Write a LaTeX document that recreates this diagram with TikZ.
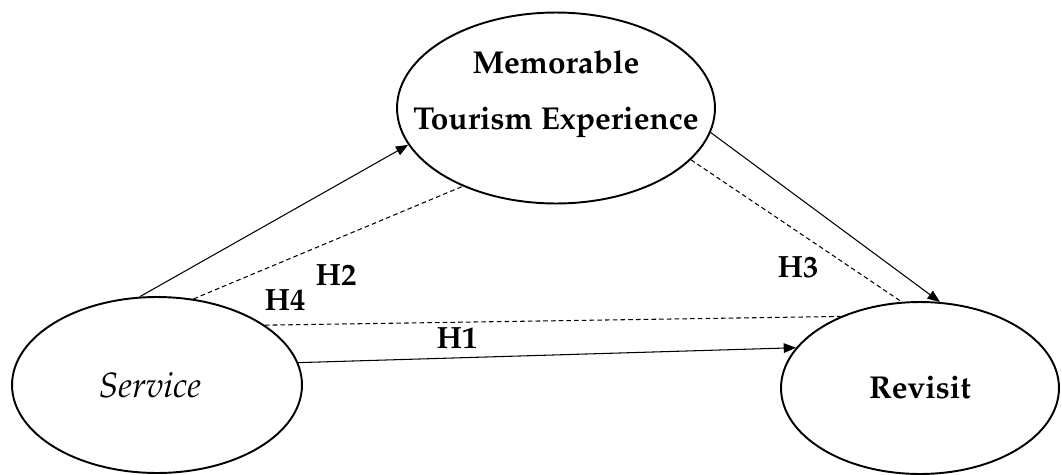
\documentclass[tikz,border=0pt]{standalone}
\usepackage[T1]{fontenc}
\usepackage{mathpazo}
\usetikzlibrary{
    shapes.geometric,
    arrows.meta,
    positioning,
}

\begin{document}
\begin{tikzpicture}[
        x=0.02cm, y=-0.02cm,
        construct/.style={ellipse, draw=black, line width=1.1pt, inner xsep=-1cm, inner ysep=0pt, minimum width=#1, font=\fontsize{18}{32}\selectfont, align=center},
        direct/.style={-{Triangle[length=7pt, width=5.5pt]}, line width=0.6pt},
        indirect/.style={line width=0.6pt, dash pattern=on 2.6pt off 1.8pt},
        hyp/.style={font=\fontsize{17.5}{20}\selectfont\bfseries},
    ]
        \useasboundingbox (0,0) rectangle (1062,474);
        \node[construct=6.36cm, minimum height=3.82cm] (mte) at (556,108) {\textbf{Memorable}\\\textbf{Tourism Experience}\\[-12pt]\mbox{}};
        \node[construct=5.8cm, minimum height=3.52cm] (srv) at (157,385) {\fontsize{20}{24}\selectfont\textit{Service}\hspace{8pt}};
        \node[construct=5.56cm, minimum height=3.44cm] (rev) at (920,388) {\textbf{Revisit}};
        \draw[direct] (srv.101) -- (mte.194);
        \draw[indirect] (srv.67) -- (mte.220);
        \draw[direct] (mte.351) -- (rev.77);
        \draw[indirect] (mte.339) -- (rev.102);
        \draw[indirect] (srv.29) -- (rev.138);
        \draw[direct] (srv.9) -- (rev.162);
        \node[hyp] (h2) at (336,275) {H2};
        \node[hyp] (h4) at (285,300) {H4};
        \node[hyp] (h1) at (457,338) {H1};
        \node[hyp] (h3) at (798,267) {H3};
    \end{tikzpicture}
\end{document}
